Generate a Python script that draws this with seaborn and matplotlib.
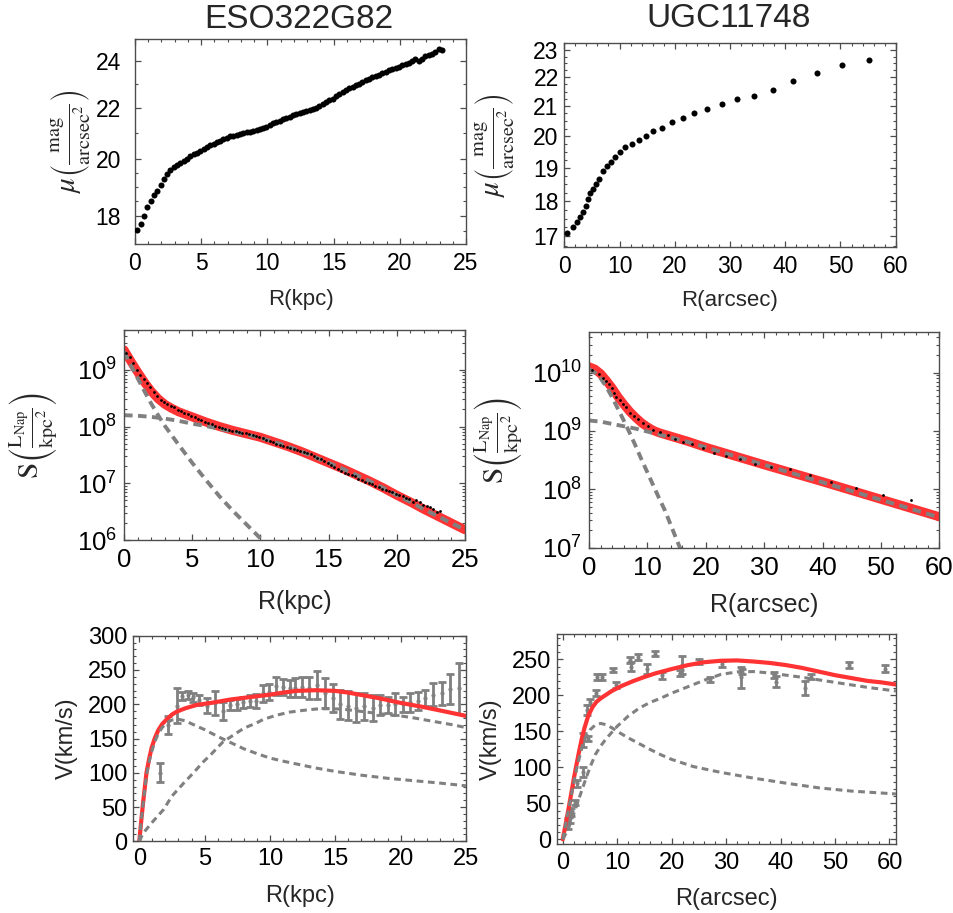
import matplotlib
matplotlib.use("Agg")
import matplotlib.pyplot as plt
import numpy as np
import seaborn as sns
from matplotlib.ticker import FixedLocator, FuncFormatter, MultipleLocator, NullFormatter

# ---------------- ESO322G82 ----------------
# surface brightness profile (top left)
eso_mu_r = [0.18, 0.43, 0.68, 0.93, 1.18, 1.43, 1.68, 1.93, 2.18, 2.43,
            2.68, 2.93, 3.18, 3.43, 3.68, 3.93, 4.18, 4.43, 4.68, 4.93,
            5.18, 5.43, 5.68, 5.93, 6.18, 6.43, 6.68, 6.93, 7.18, 7.43,
            7.68, 7.93, 8.18, 8.43, 8.68, 8.93, 9.18, 9.43, 9.68, 9.93,
            10.18, 10.43, 10.68, 10.93, 11.18, 11.43, 11.68, 11.93, 12.18, 12.43,
            12.68, 12.93, 13.18, 13.43, 13.68, 13.93, 14.18, 14.43, 14.68, 14.93,
            15.18, 15.43, 15.68, 15.93, 16.18, 16.43, 16.68, 16.93, 17.18, 17.43,
            17.68, 17.93, 18.18, 18.43, 18.68, 18.93, 19.18, 19.43, 19.68, 19.93,
            20.18, 20.43, 20.68, 20.93, 21.18, 21.43, 21.68, 21.93, 22.18, 22.43,
            22.68, 22.93, 23.18]
eso_mu = [17.53, 17.73, 17.98, 18.28, 18.50, 18.69, 18.85, 19.05, 19.28, 19.44,
          19.60, 19.70, 19.78, 19.86, 19.94, 20.02, 20.11, 20.17, 20.23, 20.30,
          20.37, 20.44, 20.51, 20.57, 20.63, 20.69, 20.75, 20.81, 20.86, 20.89,
          20.92, 20.95, 20.98, 21.02, 21.05, 21.08, 21.11, 21.15, 21.19, 21.24,
          21.30, 21.37, 21.43, 21.48, 21.53, 21.58, 21.64, 21.69, 21.74, 21.78,
          21.81, 21.85, 21.90, 21.95, 22.01, 22.08, 22.15, 22.23, 22.30, 22.38,
          22.47, 22.55, 22.64, 22.73, 22.81, 22.87, 22.93, 22.99, 23.07, 23.15,
          23.22, 23.29, 23.34, 23.40, 23.46, 23.52, 23.58, 23.63, 23.69, 23.75,
          23.80, 23.86, 23.92, 23.98, 24.10, 24.00, 24.10, 24.22, 24.28, 24.33,
          24.42, 24.52, 24.48]

# luminosity surface density, log10 (middle left)
eso_logs = [9.30, 9.22, 9.12, 9.00, 8.91, 8.84, 8.77, 8.69, 8.60, 8.54,
            8.47, 8.43, 8.40, 8.37, 8.34, 8.30, 8.27, 8.24, 8.22, 8.19,
            8.16, 8.14, 8.11, 8.08, 8.06, 8.04, 8.01, 7.99, 7.97, 7.96,
            7.94, 7.93, 7.92, 7.90, 7.89, 7.88, 7.87, 7.85, 7.84, 7.82,
            7.79, 7.76, 7.74, 7.72, 7.70, 7.68, 7.66, 7.64, 7.62, 7.60,
            7.59, 7.57, 7.55, 7.53, 7.51, 7.48, 7.45, 7.42, 7.39, 7.36,
            7.32, 7.29, 7.26, 7.22, 7.19, 7.16, 7.14, 7.12, 7.08, 7.05,
            7.02, 7.00, 6.98, 6.95, 6.93, 6.90, 6.88, 6.86, 6.84, 6.81,
            6.79, 6.77, 6.74, 6.72, 6.67, 6.71, 6.67, 6.62, 6.60, 6.58,
            6.54, 6.50, 6.52]
eso_fit_r = [0, 0.5, 1, 1.5, 2, 2.5, 3, 3.5, 4, 5, 6, 7, 8, 9, 10, 11, 12, 13,
             14, 15, 16, 17, 18, 19, 20, 21, 22, 23, 24, 25]
eso_fit_logs = [9.35, 9.15, 8.96, 8.78, 8.62, 8.49, 8.39, 8.32, 8.26, 8.17, 8.08,
                8.00, 7.93, 7.87, 7.81, 7.73, 7.65, 7.56, 7.46, 7.36, 7.26, 7.15,
                7.04, 6.92, 6.79, 6.67, 6.54, 6.42, 6.30, 6.18]
eso_disk_r = [0, 1, 2, 3, 4, 5, 6, 7, 8, 9, 10, 11, 12, 13, 14, 15, 16, 17, 18,
              19, 20, 21, 22, 23, 24, 25]
eso_disk_logs = [8.20, 8.19, 8.17, 8.14, 8.10, 8.05, 8.01, 7.96, 7.91, 7.86, 7.80,
                 7.73, 7.65, 7.56, 7.46, 7.36, 7.26, 7.15, 7.04, 6.92, 6.79, 6.67,
                 6.54, 6.42, 6.30, 6.18]
eso_bulge_r = [0, 0.5, 1, 1.5, 2, 2.5, 3, 4, 5, 6, 7, 8, 9, 10, 10.5]
eso_bulge_logs = [9.32, 9.08, 8.85, 8.62, 8.40, 8.20, 8.01, 7.68, 7.36, 7.06, 6.77,
                  6.51, 6.27, 6.03, 5.91]

# rotation curve (bottom left)
eso_v_r = [1.6, 2.2, 2.86, 3.3, 3.7, 4.1, 4.6, 5.15, 5.8, 6.4, 6.95, 7.45, 7.95,
           8.45, 8.95, 9.45, 9.95, 10.5, 11.0, 11.5, 11.95, 12.45, 12.98, 13.6,
           14.2, 14.8, 15.35, 16.0, 16.6, 17.2, 17.85, 18.45, 19.0, 19.6, 20.15,
           20.75, 21.3, 21.9, 22.45, 23.15, 23.8, 24.5]
eso_v = [100, 170, 198, 212, 213, 210, 206, 198, 202, 190, 199, 200, 203,
         205, 205, 216, 218, 227, 225, 223, 224, 225, 224, 228,
         216, 209, 200, 198, 195, 197, 195, 199, 199, 200, 200,
         203, 205, 209, 214, 216, 222, 223]
eso_v_err = [14, 13, 26, 6, 6, 6, 7, 11, 18, 13, 7, 8, 8,
             9, 10, 12, 12, 13, 12, 12, 14, 15, 16, 20,
             22, 20, 21, 21, 21, 20, 19, 15, 12, 16, 11,
             14, 13, 12, 17, 17, 22, 37]
eso_vtot_r = [0, 0.15, 0.3, 0.55, 0.75, 0.95, 1.2, 1.45, 1.75, 2.1, 2.5, 2.85,
              3.5, 4.4, 5.5, 7, 8.5, 10, 11, 12, 13.5, 15, 16, 17, 18.3, 20,
              21.6, 23, 24, 25]
eso_vtot = [0, 30, 58, 100, 120, 137, 151, 162, 171, 178, 185, 189,
            194, 199, 202, 207, 210.5, 214, 217, 219.5, 220.5, 219.5, 217, 213.5,
            209, 202, 196.5, 191, 187, 183]
eso_vbul_r = [0, 0.15, 0.3, 0.55, 0.75, 0.95, 1.2, 1.45, 1.75, 2.1, 2.5, 3, 3.5,
              4.4, 5, 6, 7, 8, 9, 10, 11, 12, 13.5, 15, 17, 19, 21, 23, 25]
eso_vbul = [0, 29, 56, 96, 116, 131, 146, 157, 166, 173, 177, 178, 176,
            168, 163, 153, 144, 135, 128, 121.5, 117, 113, 107, 102, 96.5, 92,
            88.5, 85, 81]
eso_vdisk_r = [0, 0.3, 1, 1.84, 2.5, 3.4, 4.1, 4.9, 5.5, 6.4, 7.2, 8, 9, 9.5,
               10.5, 11.5, 12.5, 13.5, 14.3, 15.5, 17, 18.5, 20, 21.2, 22.5, 24, 25]
eso_vdisk = [0, 12, 28, 46, 66, 85, 99, 116, 127, 145, 155, 165, 173, 178,
             184, 188.5, 191, 193, 193.5, 193, 189.5, 186, 183, 179.5, 175, 170, 166]

# ---------------- UGC11748 ----------------
ugc_mu_r = [0.55, 1.63, 2.35, 2.84, 3.44, 3.93, 4.23, 4.65, 5.25, 5.74, 6.28,
            6.95, 7.67, 8.46, 9.18, 10.09, 10.99, 12.2, 13.53, 14.73, 16.12,
            17.63, 19.45, 21.44, 23.48, 25.78, 28.5, 31.2, 34.35, 37.84, 41.46,
            45.81, 50.34, 55.23]
ugc_mu = [17.10, 17.25, 17.41, 17.55, 17.69, 17.86, 18.06, 18.23, 18.37, 18.52,
          18.67, 18.91, 19.06, 19.19, 19.34, 19.50, 19.64, 19.74, 19.87, 20.01,
          20.16, 20.27, 20.45, 20.61, 20.77, 20.90, 21.08, 21.23, 21.34, 21.56,
          21.86, 22.15, 22.45, 22.64]
ugc_logs = [10.04, 9.98, 9.91, 9.86, 9.80, 9.73, 9.65, 9.58, 9.53, 9.47, 9.41,
            9.31, 9.25, 9.20, 9.14, 9.08, 9.02, 8.98, 8.93, 8.87, 8.81, 8.77,
            8.70, 8.63, 8.57, 8.52, 8.44, 8.38, 8.34, 8.25, 8.13, 8.02, 7.90, 7.82]
ugc_fit_r = [0, 1, 2, 3, 4, 5, 6, 7, 8, 9, 10, 11, 12, 14, 17, 20, 25, 30, 40, 50, 60]
ugc_fit_logs = [10.10, 10.06, 9.98, 9.86, 9.73, 9.58, 9.45, 9.33, 9.23, 9.14, 9.07,
                9.01, 8.97, 8.91, 8.82, 8.72, 8.57, 8.42, 8.13, 7.83, 7.53]
ugc_disk_r = [0, 2, 4, 6, 8, 10, 12, 14, 17, 20, 25, 30, 40, 50, 60]
ugc_disk_logs = [9.18, 9.16, 9.12, 9.08, 9.04, 8.99, 8.94, 8.89, 8.81, 8.72, 8.57,
                 8.42, 8.12, 7.82, 7.52]
ugc_bulge_r = [0, 1, 2, 3, 4, 5, 6, 7, 8, 9, 10, 11, 12, 13, 14, 15, 16]
ugc_bulge_logs = [10.06, 10.00, 9.90, 9.75, 9.57, 9.37, 9.17, 8.96, 8.74, 8.51,
                  8.29, 8.07, 7.85, 7.64, 7.39, 7.14, 6.90]

ugc_v_r = [1.04, 1.35, 1.5, 2.26, 2.57, 3.67, 3.8, 4.4, 4.7, 4.95, 6.1, 6.3, 7.2,
           9.3, 9.7, 12.3, 12.6, 13.9, 15.5, 17.0, 18.2, 21.5, 21.9, 25.1, 27.0,
           29.3, 32.7, 33.0, 38.8, 39.1, 44.4, 45.6, 52.6, 59.2]
ugc_v = [22, 31, 38, 51, 78, 94, 138, 180, 140, 191, 203, 225, 225,
         235, 214, 249, 240, 253, 236, 258, 228, 231, 242, 247, 222,
         243, 225, 233, 228, 219, 210, 226, 242, 237]
ugc_v_err = [8, 8, 6, 4, 5, 7, 10, 7, 4, 4, 4, 4, 4,
             3, 4, 4, 6, 4, 7, 3, 5, 4, 12, 3, 4,
             4, 15, 4, 4, 8, 10, 4, 4, 5]
ugc_vtot_r = [0, 0.5, 1, 1.5, 2, 2.5, 3, 3.5, 4, 4.7, 5.5, 6.2, 7, 7.8, 9, 10.8,
              13, 15, 17, 20, 23, 26, 29, 32, 35, 38, 41, 44, 47, 50, 53, 56,
              58.5, 61.2]
ugc_vtot = [0, 20, 40, 61, 83, 103, 122, 140, 155, 172, 184, 191, 196, 200, 206,
            213, 220, 225.5, 230.5, 236.5, 242, 246, 248, 248.5, 247, 245, 242,
            238, 233, 228, 224, 220, 218, 215]
ugc_vbul_r = [0, 0.5, 1, 1.5, 2, 2.5, 3, 3.5, 4, 5, 6, 7, 8, 9, 10, 12, 14, 16,
              18, 20, 24, 29, 35, 41, 47, 53, 61.2]
ugc_vbul = [0, 20, 39, 58, 78, 96, 112, 127, 139, 152, 159, 161, 159, 155, 150,
            141, 133, 125, 117.5, 111, 101, 93, 85, 78, 71.5, 67, 63]
ugc_vdisk_r = [0, 1, 2, 3, 4, 5, 6, 7, 8, 10, 12, 14, 16, 18, 20, 23, 26, 29, 32,
               35, 38, 41, 44, 47, 50, 53, 56, 61.2]
ugc_vdisk = [0, 14, 35, 57, 79, 100, 118, 130, 140, 157, 171, 182, 190, 196, 203,
             212, 221, 229, 232.5, 233, 231, 228, 225, 221.5, 218, 214.5, 211, 206]

RED = "#ff3333"
GRAY = "#808080"
MU_LABEL = r"$\mu\left(\frac{\mathrm{mag}}{\mathrm{arcsec}^2}\right)$"
S_LABEL = r"$\mathrm{S}\left(\frac{\mathrm{L_{Nap}}}{\mathrm{kpc}^2}\right)$"


def frame(ax, xmajor, xminor, size, xpad, ypad):
    ax.xaxis.set_major_locator(MultipleLocator(xmajor))
    ax.xaxis.set_minor_locator(MultipleLocator(xminor))
    ax.tick_params(which="both", direction="in", top=True, right=True,
                   color="0.3", labelcolor="black", labelsize=size)
    ax.tick_params(which="major", length=4, width=0.9)
    ax.tick_params(which="minor", length=2.2, width=0.8)
    ax.tick_params(axis="x", which="both", pad=xpad)
    ax.tick_params(axis="y", which="both", pad=ypad)
    for spine in ax.spines.values():
        spine.set_visible(True)
        spine.set_color("0.3")
        spine.set_linewidth(1.0)


def log_ticks(ax, majors, minors):
    ax.set_yscale("log")
    ax.yaxis.set_major_locator(FixedLocator(majors))
    ax.yaxis.set_minor_locator(FixedLocator(minors))
    ax.yaxis.set_major_formatter(FuncFormatter(lambda v, p: "%d" % round(v)))
    ax.yaxis.set_minor_formatter(NullFormatter())


def decade_ticks(ax, lo, hi):
    ax.set_yscale("log")
    ax.yaxis.set_major_locator(FixedLocator([10.0 ** k for k in range(lo, hi + 1)]))
    ax.yaxis.set_major_formatter(
        FuncFormatter(lambda v, p: r"$\mathregular{10^{%d}}$" % round(np.log10(v))))
    ax.yaxis.set_minor_formatter(NullFormatter())


def profile_panel(ax, r, mu):
    sns.scatterplot(x=r, y=mu, ax=ax, color="black", s=19, linewidth=0, zorder=3)


def density_panel(ax, r, logs, fit_r, fit_logs, disk_r, disk_logs, bul_r, bul_logs):
    sns.lineplot(x=fit_r, y=10 ** np.array(fit_logs), ax=ax, color=RED, lw=6.5,
                 sort=False, estimator=None, zorder=1)
    for xr, yl in [(disk_r, disk_logs), (bul_r, bul_logs)]:
        sns.lineplot(x=xr, y=10 ** np.array(yl), ax=ax, color=GRAY, lw=2.8,
                     linestyle=(0, (2.2, 1.4)), sort=False, estimator=None, zorder=2)
    sns.scatterplot(x=r, y=10 ** np.array(logs), ax=ax, color="black", s=4,
                    linewidth=0, zorder=3)


def velocity_panel(ax, r, v, err, tot_r, tot, bul_r, bul, disk_r, disk):
    ax.errorbar(r, v, yerr=err, fmt="o", ms=2, color=GRAY, ecolor=GRAY,
                elinewidth=2, capsize=3, capthick=2, zorder=1)
    sns.lineplot(x=tot_r, y=tot, ax=ax, color=RED, lw=3, sort=False,
                 estimator=None, zorder=2)
    for xr, yv in [(bul_r, bul), (disk_r, disk)]:
        sns.lineplot(x=xr, y=yv, ax=ax, color=GRAY, lw=2.2,
                     linestyle=(0, (2.2, 1.5)), sort=False, estimator=None, zorder=3)


sns.set_theme(style="ticks")
plt.rcParams["font.family"] = ["Liberation Sans", "DejaVu Sans"]
plt.rcParams["mathtext.fontset"] = "stix"

fig = plt.figure(figsize=(9.54, 9.13), dpi=100)

# top row
ax1 = fig.add_axes([0.1415, 0.7328, 0.347, 0.2245])
profile_panel(ax1, eso_mu_r, eso_mu)
log_ticks(ax1, [18, 20, 22, 24], [17, 17.5, 18.5, 19, 19.5, 21, 23, 25])
ax1.set_xlim(0, 25)
ax1.set_ylim(17.08, 25.0)
frame(ax1, 5, 1, 16.5, 6, 10)
ax1.set_xlabel("R(kpc)", fontsize=16)
ax1.set_ylabel(MU_LABEL, fontsize=21)
ax1.xaxis.set_label_coords(0.5, -0.22)
ax1.yaxis.set_label_coords(-0.127, 0.5)

ax2 = fig.add_axes([0.5915, 0.7298, 0.3474, 0.2234])
profile_panel(ax2, ugc_mu_r, ugc_mu)
log_ticks(ax2, [17, 18, 19, 20, 21, 22, 23],
          [v / 4 for v in range(66, 94) if v % 4 != 0])
ax2.set_xlim(0, 60)
ax2.set_ylim(16.72, 23.27)
frame(ax2, 10, 2, 16.5, 6, 4)
ax2.set_xlabel("R(arcsec)", fontsize=16)
ax2.set_ylabel(MU_LABEL, fontsize=21)
ax2.xaxis.set_label_coords(0.5, -0.212)
ax2.yaxis.set_label_coords(-0.142, 0.5)

# middle row
ax3 = fig.add_axes([0.13, 0.4085, 0.3574, 0.23])
ax3.set_yscale("log")
density_panel(ax3, eso_mu_r, eso_logs, eso_fit_r, eso_fit_logs,
              eso_disk_r, eso_disk_logs, eso_bulge_r, eso_bulge_logs)
decade_ticks(ax3, 6, 9)
ax3.set_xlim(0, 25)
ax3.set_ylim(1e6, 10 ** 9.70)
frame(ax3, 5, 1, 18.5, 6, 5)
ax3.set_xlabel("R(kpc)", fontsize=18)
ax3.set_ylabel(S_LABEL, fontsize=21)
ax3.xaxis.set_label_coords(0.5, -0.238)
ax3.yaxis.set_label_coords(-0.188, 0.5)

ax4 = fig.add_axes([0.6174, 0.4001, 0.3672, 0.2359])
ax4.set_yscale("log")
density_panel(ax4, ugc_mu_r, ugc_logs, ugc_fit_r, ugc_fit_logs,
              ugc_disk_r, ugc_disk_logs, ugc_bulge_r, ugc_bulge_logs)
decade_ticks(ax4, 7, 10)
ax4.set_xlim(0, 60)
ax4.set_ylim(1e7, 10 ** 10.69)
frame(ax4, 10, 2, 18.5, 6, 5)
ax4.set_xlabel("R(arcsec)", fontsize=18)
ax4.set_ylabel(S_LABEL, fontsize=21)
ax4.xaxis.set_label_coords(0.5, -0.212)
ax4.yaxis.set_label_coords(-0.183, 0.5)

# bottom row
ax5 = fig.add_axes([0.1397, 0.0785, 0.3487, 0.2252])
velocity_panel(ax5, eso_v_r, eso_v, eso_v_err, eso_vtot_r, eso_vtot,
               eso_vbul_r, eso_vbul, eso_vdisk_r, eso_vdisk)
ax5.set_xlim(-0.46, 25)
ax5.set_ylim(0, 300)
ax5.yaxis.set_major_locator(MultipleLocator(50))
ax5.yaxis.set_minor_locator(MultipleLocator(10))
frame(ax5, 5, 1, 17, 5, 4)
ax5.set_xlabel("R(kpc)", fontsize=17)
ax5.set_ylabel("V(km/s)", fontsize=17)
ax5.xaxis.set_label_coords(0.5, -0.213)
ax5.yaxis.set_label_coords(-0.166, 0.5)

ax6 = fig.add_axes([0.5839, 0.0759, 0.3553, 0.2293])
velocity_panel(ax6, ugc_v_r, ugc_v, ugc_v_err, ugc_vtot_r, ugc_vtot,
               ugc_vbul_r, ugc_vbul, ugc_vdisk_r, ugc_vdisk)
ax6.set_xlim(-1.05, 61.2)
ax6.set_ylim(-6.1, 284.7)
ax6.yaxis.set_major_locator(MultipleLocator(50))
ax6.yaxis.set_minor_locator(MultipleLocator(10))
frame(ax6, 10, 2, 17, 6, 4)
ax6.set_xlabel("R(arcsec)", fontsize=17)
ax6.set_ylabel("V(km/s)", fontsize=17)
ax6.xaxis.set_label_coords(0.5, -0.21)
ax6.yaxis.set_label_coords(-0.162, 0.5)

fig.text(0.3134, 0.9786, "ESO322G82", ha="center", va="center", fontsize=24)
fig.text(0.7642, 0.980, "UGC11748", ha="center", va="center", fontsize=24)

fig.savefig("out.png", dpi=100)
